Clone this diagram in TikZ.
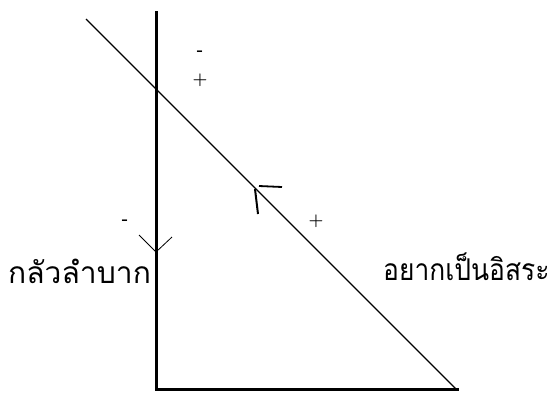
\documentclass[tikz,border=0pt]{standalone}
\usepackage{fontspec}
\newfontfamily\thaifont[Script=Thai]{Loma}
\begin{document}
\begin{tikzpicture}[x=1pt, y=-1pt, every node/.style={inner sep=0pt}]
        \useasboundingbox (0,0) rectangle (555,394);
        \tikzset{axisline/.style={color = black, line width=3pt},
                 sumline/.style={color = black, line width=1.2pt},
                 sign/.style={font=\bfseries\fontsize{17}{17}\selectfont},
                 thailabel/.style={font=\thaifont\fontsize{30}{30}\selectfont}}
        \draw[axisline] (156,11) -- (156,389) -- (459,389);
        \draw[sumline] (86,19) -- (457,390);
        \draw[color = black, line width=0.8pt] (139,235) -- (156,252) -- (172,237);
        \draw[color = black, line width=2pt] (255,189) -- (258,214);
        \draw[color = black, line width=1.8pt] (259,186) -- (282,187);
        \node[sign] (m1) at (200,53) {-};
        \node[sign] (p1) at (200,80) {+};
        \node[sign] (m2) at (125,222) {-};
        \node[sign] (p2) at (316,221) {+};
        \node[thailabel, anchor=base west] (fear) at (8,283) {กลัวลำบาก};
        \node[thailabel, anchor=base west] (free) at (383,280) {\scalebox{0.88}[1]{อยากเป็นอิสระ}};
\end{tikzpicture}
\end{document}
